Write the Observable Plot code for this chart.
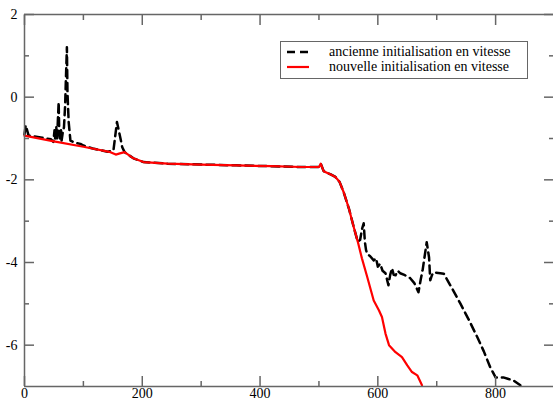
<!DOCTYPE html>
<html>
<head>
<meta charset="utf-8">
<script src="https://cdn.jsdelivr.net/npm/d3@7"></script>
<script src="https://cdn.jsdelivr.net/npm/@observablehq/plot@0.6"></script>
<style>
  html, body { margin: 0; padding: 0; background: #fff; }
  #chart { position: relative; width: 553px; height: 404px; }
</style>
</head>
<body>
<div id="chart"></div>
<script>
// ---- data ----
const seriesNames = ["ancienne initialisation en vitesse", "nouvelle initialisation en vitesse"];

const newX = [0, 50, 100, 146, 155, 162, 170, 185, 202, 243, 300, 360, 420, 470, 500, 503, 508, 520, 528, 535, 542, 551, 559, 566, 573, 582, 593, 602, 607, 613, 619, 630, 641, 650, 658, 667, 675];
const newY = [-0.93, -1.07, -1.20, -1.33, -1.39, -1.36, -1.33, -1.48, -1.57, -1.61, -1.63, -1.65, -1.67, -1.69, -1.69, -1.61, -1.79, -1.87, -1.93, -2.05, -2.30, -2.70, -3.14, -3.50, -3.90, -4.35, -4.92, -5.16, -5.32, -5.72, -6.0, -6.17, -6.29, -6.49, -6.65, -6.73, -6.97];

const oldX = [0, 2, 7, 16, 30, 45, 49, 51, 52, 54, 55, 56, 58, 59, 60, 62, 63, 65, 67, 69, 70, 72, 73, 75, 78, 85, 95, 100, 118, 141, 151, 154, 157, 160, 163, 166, 170, 185, 202, 243, 300, 360, 420, 470, 500, 503, 508, 520, 528, 535, 542, 551, 559, 566, 570, 573, 576, 578, 580, 582, 587, 593, 597, 600, 604, 608, 613, 618, 621, 624, 627, 630, 634, 638, 645, 655, 662, 669, 673, 676, 680, 683, 687, 689, 692, 695, 706, 712, 725, 740, 755, 769, 780, 791, 800, 813, 822, 830, 842];
const oldY = [-0.90, -0.68, -0.93, -0.95, -0.98, -1.02, -1.08, -0.80, -1.00, -0.72, -1.02, -0.78, -0.12, -0.85, -1.00, -0.80, -1.05, -0.85, -0.73, -0.20, 0.30, 1.21, 0.10, -0.60, -1.05, -1.10, -1.13, -1.17, -1.25, -1.32, -1.29, -0.95, -0.60, -0.80, -1.00, -1.21, -1.33, -1.48, -1.57, -1.61, -1.63, -1.65, -1.67, -1.69, -1.69, -1.61, -1.79, -1.87, -1.93, -2.05, -2.30, -2.70, -3.14, -3.50, -3.45, -3.20, -3.05, -3.50, -3.70, -3.79, -3.85, -3.95, -3.90, -4.10, -4.03, -4.20, -4.26, -4.55, -4.30, -4.14, -4.30, -4.31, -4.20, -4.26, -4.30, -4.38, -4.50, -4.72, -4.40, -4.19, -3.80, -3.51, -3.88, -4.43, -4.30, -4.24, -4.26, -4.27, -4.60, -4.99, -5.40, -5.81, -6.15, -6.54, -6.78, -6.78, -6.82, -6.85, -6.97];

const xMajor = [0, 200, 400, 600, 800];
const xMinor = [100, 300, 500, 700];
const yMajor = [-6, -4, -2, 0, 2];
const yMinor = [-5, -3, -1, 1];
const xDomain = [0, 900];
const yDomain = [-7, 2];

// ---- build ----
const oldData = oldX.map((x, i) => ({x, y: oldY[i]}));
const newData = newX.map((x, i) => ({x, y: newY[i]}));

const axisColor = "#666";
const font = "'Liberation Serif', 'DejaVu Serif', serif";

const plot = Plot.plot({
  width: 553,
  height: 404,
  marginLeft: 24,
  marginRight: 0,
  marginTop: 14,
  marginBottom: 18,
  style: {fontFamily: font, fontSize: "14px", background: "white", color: "#000"},
  x: {domain: xDomain, range: [24, 554]},
  y: {domain: yDomain, range: [386, 14]},
  marks: [
    Plot.line(oldData, {x: "x", y: "y", stroke: "#000", strokeWidth: 2.5, strokeDasharray: "8,5"}),
    Plot.line(newData, {x: "x", y: "y", stroke: "#ff0000", strokeWidth: 2.2}),
    // frame lines
    Plot.ruleX([xDomain[0]], {stroke: axisColor, strokeWidth: 1.5}),
    Plot.ruleY([yDomain[0], yDomain[1]], {stroke: axisColor, strokeWidth: 1.5}),
    // inward ticks
    Plot.axisX({anchor: "bottom", ticks: xMajor, tickSize: -10, text: null, stroke: axisColor, strokeWidth: 1.5, label: null}),
    Plot.axisX({anchor: "bottom", ticks: xMinor, tickSize: -5, text: null, stroke: axisColor, strokeWidth: 1.5, label: null}),
    Plot.axisX({anchor: "top", ticks: xMajor, tickSize: -10, text: null, stroke: axisColor, strokeWidth: 1.5, label: null}),
    Plot.axisX({anchor: "top", ticks: xMinor, tickSize: -5, text: null, stroke: axisColor, strokeWidth: 1.5, label: null}),
    Plot.axisY({anchor: "left", ticks: yMajor, tickSize: -10, text: null, stroke: axisColor, strokeWidth: 1.5, label: null}),
    Plot.axisY({anchor: "left", ticks: yMinor, tickSize: -5, text: null, stroke: axisColor, strokeWidth: 1.5, label: null}),
    Plot.axisY({anchor: "right", ticks: yMajor, tickSize: -10, text: null, stroke: axisColor, strokeWidth: 1.5, label: null}),
    Plot.axisY({anchor: "right", ticks: yMinor, tickSize: -5, text: null, stroke: axisColor, strokeWidth: 1.5, label: null}),
    // labels
    Plot.axisX({anchor: "bottom", ticks: xMajor, tickSize: 0, tickPadding: 2, tickFormat: d => String(d), label: null, fill: "#000"}),
    Plot.axisY({anchor: "left", ticks: yMajor, tickSize: 0, tickPadding: 7, tickFormat: d => String(d), label: null, fill: "#000"})
  ]
});

document.getElementById("chart").appendChild(plot);

// ---- legend ----
const svg = d3.select(plot);
const lg = svg.append("g").style("font-family", font).style("font-size", "14px").attr("text-anchor", "start");
lg.append("rect").attr("x", 280.5).attr("y", 41.5).attr("width", 247).attr("height", 37)
  .attr("fill", "white").attr("stroke", axisColor).attr("stroke-width", 1);
const items = [
  {name: seriesNames[0], stroke: "#000", dash: "8,5", w: 2.5},
  {name: seriesNames[1], stroke: "#ff0000", dash: null, w: 2.2}
];
items.forEach((it, i) => {
  const yy = 52 + i * 15;
  lg.append("line").attr("x1", 287).attr("x2", 309).attr("y1", yy).attr("y2", yy)
    .attr("stroke", it.stroke).attr("stroke-width", it.w).attr("stroke-dasharray", it.dash);
  lg.append("text").attr("x", 329).attr("y", yy).attr("dy", "0.32em")
    .style("font-family", font).style("font-size", "14px")
    .attr("text-anchor", "start").attr("fill", "#000").text(it.name);
});
</script>
</body>
</html>
